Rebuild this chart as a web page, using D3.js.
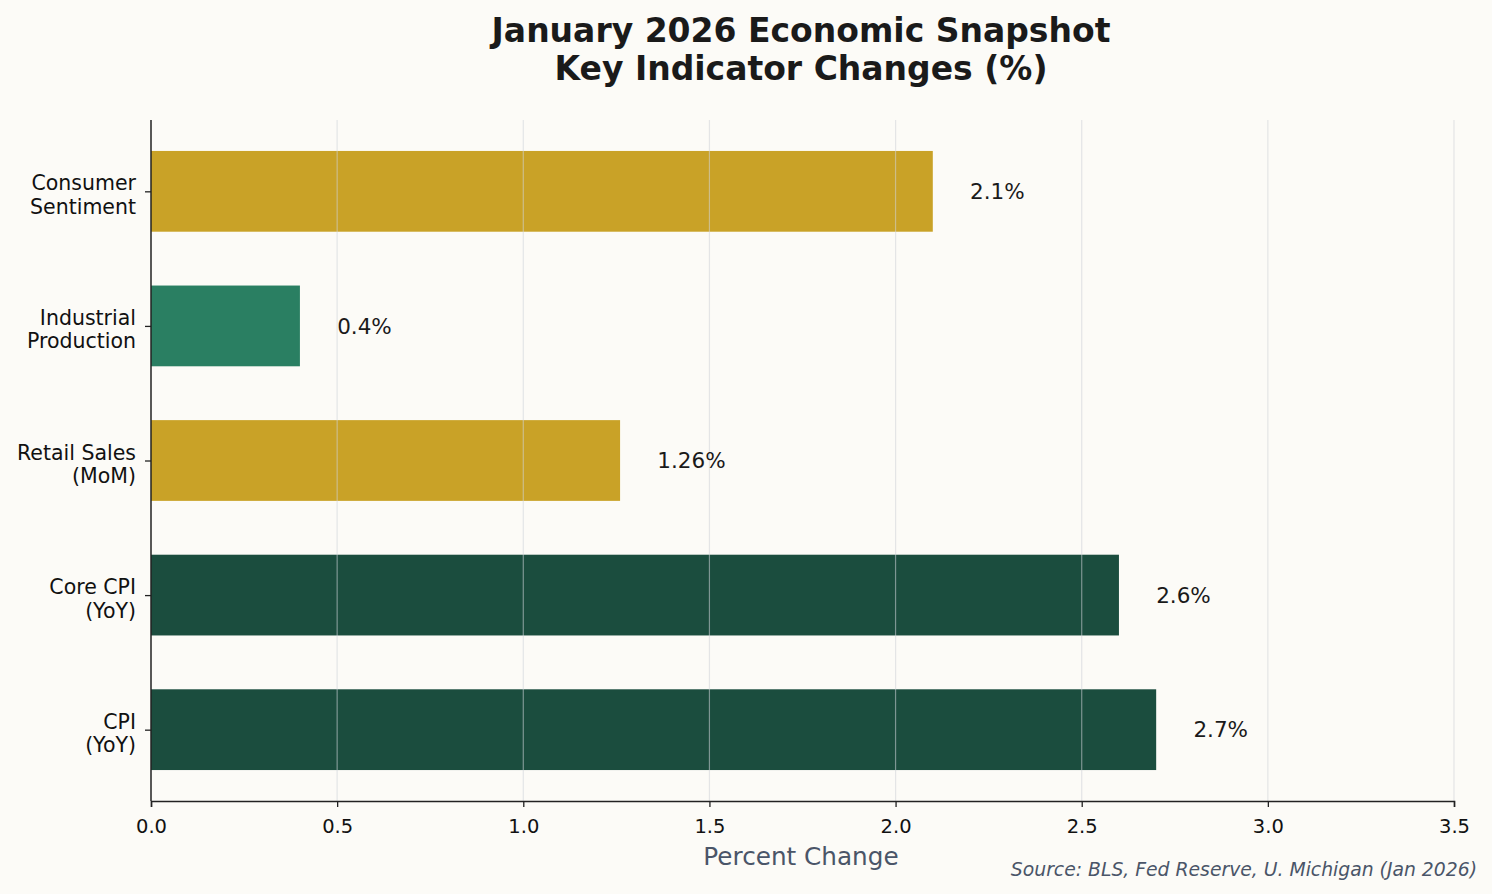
<!DOCTYPE html>
<html><head><meta charset="utf-8">
<script src="https://cdn.jsdelivr.net/npm/d3@7"></script>
<style>
html,body{margin:0;padding:0;background:#FCFBF7;}
svg{display:block;font-family:"DejaVu Sans",sans-serif;}
</style></head>
<body>
<svg id="c" width="1492" height="894"></svg>
<script>
const categories = ["CPI\n(YoY)", "Core CPI\n(YoY)", "Retail Sales\n(MoM)", "Industrial\nProduction", "Consumer\nSentiment"];
const values = [2.7, 2.6, 1.26, 0.4, 2.1];
const valueLabels = ["2.7%", "2.6%", "1.26%", "0.4%", "2.1%"];
const barColors = ["#1B4D3E", "#1B4D3E", "#C9A227", "#2A7F62", "#C9A227"];
const xTicks = [0, 0.5, 1.0, 1.5, 2.0, 2.5, 3.0, 3.5];

const svg = d3.select("#c");
const W = 1492, H = 894;
svg.append("rect").attr("width", W).attr("height", H).attr("fill", "#FCFBF7");

const L = 151, R = 1454, T = 120, B = 801;
const x = d3.scaleLinear().domain([0, 3.5]).range([L, R]);
const y = d3.scaleLinear().domain([-0.53, 4.53]).range([B, T]);
const bh = y(0) - y(0.6);

// bars
svg.append("g").selectAll("rect").data(values).join("rect")
  .attr("x", x(0))
  .attr("y", (d, i) => y(i) - bh / 2)
  .attr("width", d => x(d) - x(0))
  .attr("height", bh)
  .attr("fill", (d, i) => barColors[i]);

// grid (on top, translucent)
svg.append("g").selectAll("line").data(xTicks.slice(1)).join("line")
  .attr("x1", d => x(d)).attr("x2", d => x(d))
  .attr("y1", T).attr("y2", B)
  .attr("stroke", "#d0d4d8").attr("stroke-opacity", 0.55).attr("stroke-width", 1.2);

// value labels
svg.append("g").selectAll("text").data(values).join("text")
  .attr("x", d => x(d + 0.1))
  .attr("y", (d, i) => y(i))
  .attr("dy", "0.36em")
  .attr("font-size", 21.5)
  .attr("fill", "#1a1a1a")
  .text((d, i) => valueLabels[i]);

// x axis
const xAxis = d3.axisBottom(x).tickValues(xTicks).tickFormat(d3.format(".1f")).tickSize(6).tickPadding(12);
const gx = svg.append("g").attr("transform", `translate(0,${B})`).call(xAxis);
gx.select(".domain").attr("stroke", "#222").attr("stroke-width", 1.5);
gx.selectAll(".tick line").attr("stroke", "#222").attr("stroke-width", 1.3);
gx.selectAll(".tick text").attr("font-size", 19.5).attr("fill", "#111").attr("font-family", "DejaVu Sans");

// y axis
const ya = d3.axisLeft(y).tickValues([0,1,2,3,4]).tickFormat("").tickSize(6);
const gy = svg.append("g").attr("transform", `translate(${L},0)`).call(ya);
gy.select(".domain").attr("d", `M0,${T}V${B}`).attr("stroke", "#222").attr("stroke-width", 1.5);
gy.selectAll(".tick line").attr("stroke", "#222").attr("stroke-width", 1.3);

// y labels
const yl = svg.append("g").selectAll("text").data(categories).join("text")
  .attr("x", L - 15)
  .attr("y", (d, i) => y(i) - 1)
  .attr("text-anchor", "end")
  .attr("font-size", 20.5)
  .attr("fill", "#111");
yl.each(function(d) {
  const lines = d.split("\n");
  const t = d3.select(this);
  lines.forEach((ln, k) => {
    t.append("tspan").attr("x", L - 15)
      .attr("dy", k === 0 ? "0" : "23.5px")
      .text(ln);
  });
});

// title
const title = svg.append("text").attr("x", 801).attr("text-anchor", "middle")
  .attr("font-size", 33).attr("font-weight", "bold").attr("fill", "#1a1a1a");
title.append("tspan").attr("x", 801).attr("y", 42).text("January 2026 Economic Snapshot");
title.append("tspan").attr("x", 801).attr("y", 80).text("Key Indicator Changes (%)");

// x label
svg.append("text").attr("x", 801).attr("y", 865).attr("text-anchor", "middle")
  .attr("font-size", 24.7).attr("fill", "#4A5568").text("Percent Change");

// source
svg.append("text").attr("x", 1477).attr("y", 876).attr("text-anchor", "end")
  .attr("font-size", 18.8).attr("font-style", "italic").attr("fill", "#4A5568")
  .text("Source: BLS, Fed Reserve, U. Michigan (Jan 2026)");
</script>
</body></html>
